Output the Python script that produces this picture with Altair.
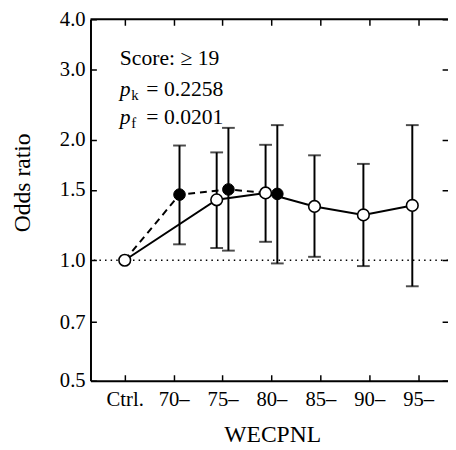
import altair as alt
import pandas as pd

# ---- data ----
categories = ["Ctrl.", "70–", "75–", "80–", "85–", "90–", "95–"]
open_or = [1.00, None, 1.416, 1.473, 1.363, 1.298, 1.371]
open_lo = [None, None, 1.073, 1.112, 1.020, 0.967, 0.861]
open_hi = [None, None, 1.860, 1.943, 1.829, 1.741, 2.176]
filled_or = [1.00, 1.459, 1.503, 1.465, None, None, None]
filled_lo = [None, 1.096, 1.057, 0.982, None, None, None]
filled_hi = [None, 1.935, 2.142, 2.176, None, None, None]
y_ticks = [0.5, 0.7, 1.0, 1.5, 2.0, 3.0, 4.0]
note_title = "Score: ≥ 19"
note_subs = ["k", "f"]
note_vals = ["= 0.2258", "= 0.0201"]

SHIFT = 0.12
FONT = "Liberation Serif"
W, H = 364, 368


def series(or_, lo, hi, sign):
    rows = []
    for i, (c, v, l, h) in enumerate(zip(categories, or_, lo, hi)):
        if v is None:
            continue
        rows.append({"cat": c, "x": i + (sign * SHIFT if i > 0 else 0.0),
                     "y": v, "lo": l, "hi": h})
    return pd.DataFrame(rows)


df_open = series(open_or, open_lo, open_hi, -1)
df_fill = series(filled_or, filled_lo, filled_hi, +1)
err_open = df_open.dropna(subset=["lo"])
err_fill = df_fill.dropna(subset=["lo"])
pts_fill = df_fill[df_fill["x"] > 0]

label_expr = "[" + ",".join("'" + c + "'" for c in categories) + "][datum.value]"

xscale = alt.Scale(domain=[-0.70, 6.61], nice=False, zero=False)
yscale = alt.Scale(type="log", domain=[0.5, 4.0], nice=False)

xaxis = alt.Axis(
    title="WECPNL", values=list(range(len(categories))), labelExpr=label_expr,
    grid=True, gridDash=[6, 356], gridColor="black", gridWidth=1.5, gridOpacity=1,
    ticks=False, tickSize=0, domainColor="black", domainWidth=2,
    labelFont=FONT, labelFontSize=21, labelColor="black", labelPadding=25,
    labelBaseline="alphabetic", labelFlush=False, labelOverlap=False,
    titleFont=FONT, titleFontSize=24, titleFontWeight="normal", titleColor="black",
    titleX=185, titleY=61.5, titleBaseline="alphabetic",
)
yaxis = alt.Axis(
    title="Odds ratio", values=y_ticks, format=".1f",
    grid=True, gridDash=[6, 352], gridColor="black", gridWidth=1.5, gridOpacity=1,
    ticks=False, tickSize=0, domainColor="black", domainWidth=2,
    labelFont=FONT, labelFontSize=21, labelColor="black", labelPadding=5.5,
    labelFlush=False, labelOverlap=False,
    titleFont=FONT, titleFontSize=24, titleFontWeight="normal", titleColor="black",
    titleX=-68.7, titleY=166, titleBaseline="middle", titleAngle=-90,
)


def X(field="x"):
    return alt.X(field, type="quantitative", scale=xscale, axis=xaxis)


def Y(field="y"):
    return alt.Y(field, type="quantitative", scale=yscale, axis=yaxis)


ref_line = alt.Chart(pd.DataFrame({"v": [1.0]})).mark_rule(
    color="black", strokeWidth=1.5, strokeDash=[1.5, 4.2]).encode(y=Y("v"))
top_line = alt.Chart(pd.DataFrame({"v": [max(y_ticks)]})).mark_rule(
    color="black", strokeWidth=2).encode(y=Y("v"))


def errbars(df):
    r = alt.Chart(df).mark_rule(color="black", strokeWidth=2).encode(
        x=X(), y=Y("lo"), y2="hi")
    lo = alt.Chart(df).mark_tick(color="black", orient="horizontal", size=13,
                                 thickness=2).encode(x=X(), y=Y("lo"))
    hi = alt.Chart(df).mark_tick(color="black", orient="horizontal", size=13,
                                 thickness=2).encode(x=X(), y=Y("hi"))
    return [r, lo, hi]


line_fill = alt.Chart(df_fill).mark_line(color="black", strokeWidth=2,
                                         strokeDash=[7, 5]).encode(
    x=X(), y=Y(), order="x:Q")
line_open = alt.Chart(df_open).mark_line(color="black", strokeWidth=2).encode(
    x=X(), y=Y(), order="x:Q")
pt_fill = alt.Chart(pts_fill).mark_point(shape="circle", filled=True, fill="black",
                                         stroke="black", strokeWidth=1, size=140,
                                         opacity=1).encode(x=X(), y=Y())
pt_open = alt.Chart(df_open).mark_point(shape="circle", filled=True, fill="white",
                                        stroke="black", strokeWidth=1.6, size=140,
                                        opacity=1).encode(x=X(), y=Y())

# annotation (placed in data units)
ann_x = -0.10
ann_y = [3.07, 2.575, 2.186]
t_main = alt.Chart(pd.DataFrame({"x": [ann_x], "y": [ann_y[0]], "t": [note_title]})).mark_text(
    font=FONT, fontSize=22, align="left", baseline="alphabetic", color="black").encode(
    x=X(), y=Y(), text="t:N")
df_p = pd.DataFrame({"x": [ann_x, ann_x], "y": ann_y[1:], "s": note_subs, "v": note_vals,
                     "p": ["p", "p"]})
t_p = alt.Chart(df_p).mark_text(font=FONT, fontSize=22, fontStyle="italic", align="left",
                                baseline="alphabetic", color="black").encode(
    x=X(), y=Y(), text="p:N")
t_s = alt.Chart(df_p).mark_text(font=FONT, fontSize=15, align="left", dx=11.5, dy=4,
                                baseline="alphabetic", color="black").encode(
    x=X(), y=Y(), text="s:N")
t_v = alt.Chart(df_p).mark_text(font=FONT, fontSize=22, align="left", dx=27,
                                baseline="alphabetic", color="black").encode(
    x=X(), y=Y(), text="v:N")

layers = [ref_line, top_line] + errbars(err_fill) + errbars(err_open) + [
    line_fill, line_open, pt_fill, pt_open, t_main, t_p, t_s, t_v]

chart = alt.layer(*layers).properties(
    width=W, height=H,
    autosize=alt.AutoSizeParams(type="none"),
    padding={"left": 84, "top": 7.5, "right": 0, "bottom": 66},
    background="white",
).configure_view(stroke=None)

chart.save("out.html", embed_options={"renderer": "svg", "actions": False})
